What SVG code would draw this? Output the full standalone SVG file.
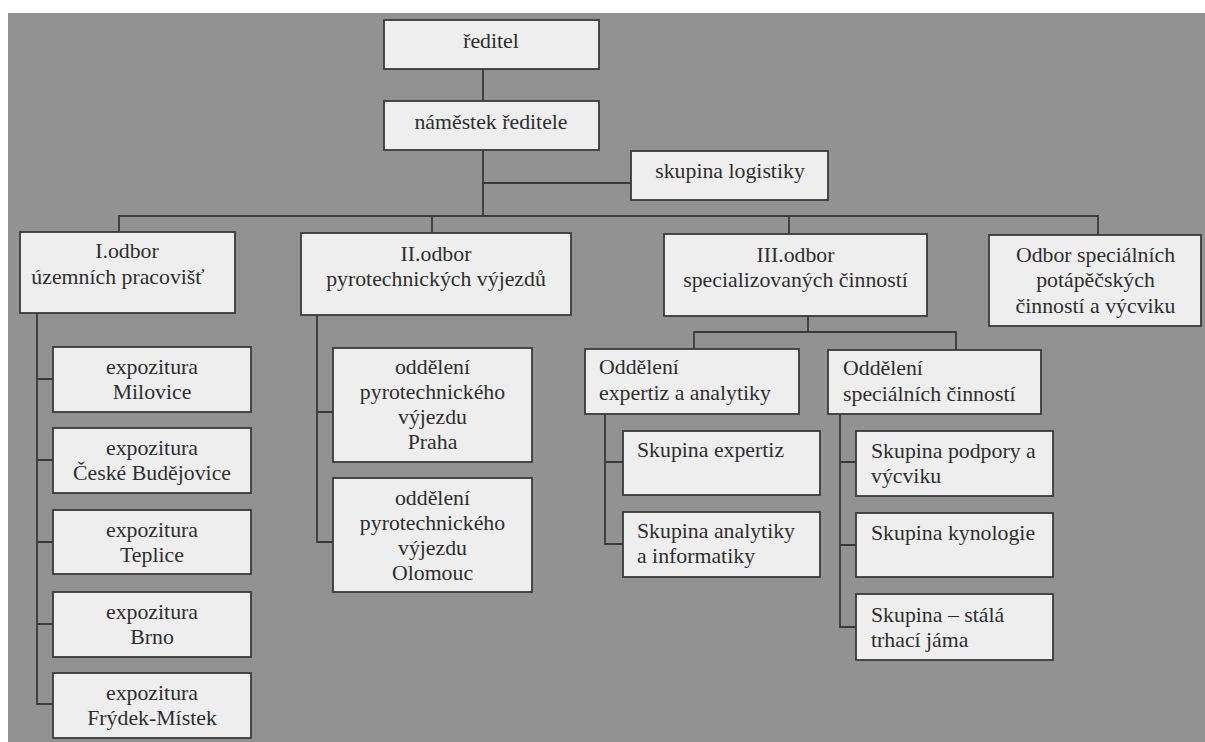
<svg xmlns="http://www.w3.org/2000/svg" width="1205" height="742" viewBox="0 0 1205 742">
<style>
.bg{fill:#929292}
.box{fill:#eeeeee;stroke:#3a3a3a;stroke-width:1.8}
.c{fill:none;stroke:#3a3a3a;stroke-width:1.8}
.t text{font-size:21.8px;fill:#2e2e2e}
.m{text-anchor:middle}
</style>
<rect x="0" y="0" width="1205" height="742" fill="#ffffff"/>
<rect class="bg" x="8" y="13" width="1197" height="729"/>
<g id="connectors">
<path class="c" d="M483,69 V101"/>
<path class="c" d="M483,150 V216 M483,183 H631"/>
<path class="c" d="M119,231 V216 H1098 V235 M432,216 V233 M789,216 V234"/>
<path class="c" d="M37,313 V704 H53 M37,379 H53 M37,460 H53 M37,542 H53 M37,624 H53"/>
<path class="c" d="M317,315 V542 H333 M317,412 H333"/>
<path class="c" d="M808,316 V332 M694,349 V332 H956 V350"/>
<path class="c" d="M605,414 V544 H623 M605,462 H623"/>
<path class="c" d="M840,414 V627 H856 M840,545 H856 M840,462 H856"/>
</g>
<g class="t" font-family="'Liberation Serif', 'DejaVu Serif', 'Times New Roman', serif">
<g id="reditel"><rect class="box" x="384" y="20" width="215" height="49"/><text class="m" x="491" y="48">ředitel</text></g>
<g id="namestek"><rect class="box" x="384" y="101" width="215" height="49"/><text class="m" x="491" y="129">náměstek ředitele</text></g>
<g id="logistika"><rect class="box" x="631" y="151" width="197" height="49"/><text class="m" x="730" y="178">skupina logistiky</text></g>
<g id="odbor1"><rect class="box" x="20" y="232" width="215" height="81"/><text class="m" x="127" y="258">I.odbor</text><text class="m" x="118" y="284">územních pracovišť</text></g>
<g id="odbor2"><rect class="box" x="301" y="233" width="270" height="82"/><text class="m" x="436" y="261">II.odbor</text><text class="m" x="436" y="286">pyrotechnických výjezdů</text></g>
<g id="odbor3"><rect class="box" x="664" y="234" width="263" height="82"/><text class="m" x="795.5" y="262">III.odbor</text><text class="m" x="795.5" y="287">specializovaných činností</text></g>
<g id="odbor4"><rect class="box" x="989" y="235" width="212" height="91"/><text class="m" x="1095.5" y="262">Odbor speciálních</text><text class="m" x="1095.5" y="287">potápěčských</text><text class="m" x="1095.5" y="313">činností a výcviku</text></g>
<g id="exp1"><rect class="box" x="53" y="347" width="198" height="65"/><text class="m" x="152" y="374">expozitura</text><text class="m" x="152" y="399">Milovice</text></g>
<g id="exp2"><rect class="box" x="53" y="428" width="198" height="65"/><text class="m" x="152" y="455">expozitura</text><text class="m" x="152" y="480">České Budějovice</text></g>
<g id="exp3"><rect class="box" x="53" y="510" width="198" height="64"/><text class="m" x="152" y="537">expozitura</text><text class="m" x="152" y="562">Teplice</text></g>
<g id="exp4"><rect class="box" x="53" y="592" width="198" height="65"/><text class="m" x="152" y="619">expozitura</text><text class="m" x="152" y="644">Brno</text></g>
<g id="exp5"><rect class="box" x="53" y="673" width="198" height="65"/><text class="m" x="152" y="700">expozitura</text><text class="m" x="152" y="725">Frýdek-Místek</text></g>
<g id="praha"><rect class="box" x="333" y="348" width="199" height="114"/><text class="m" x="432.5" y="374">oddělení</text><text class="m" x="432.5" y="399">pyrotechnického</text><text class="m" x="432.5" y="424">výjezdu</text><text class="m" x="432.5" y="449">Praha</text></g>
<g id="olomouc"><rect class="box" x="333" y="478" width="199" height="114"/><text class="m" x="432.5" y="505">oddělení</text><text class="m" x="432.5" y="530">pyrotechnického</text><text class="m" x="432.5" y="555">výjezdu</text><text class="m" x="432.5" y="580">Olomouc</text></g>
<g id="odd-expertiz"><rect class="box" x="585" y="349" width="214" height="65"/><text x="599" y="374">Oddělení</text><text x="599" y="400">expertiz a analytiky</text></g>
<g id="odd-special"><rect class="box" x="828" y="350" width="213" height="64"/><text x="843" y="375">Oddělení</text><text x="843" y="401">speciálních činností</text></g>
<g id="sk-expertiz"><rect class="box" x="623" y="431" width="197" height="64"/><text x="637" y="457">Skupina expertiz</text></g>
<g id="sk-analytiky"><rect class="box" x="623" y="512" width="197" height="65"/><text x="637" y="538">Skupina analytiky</text><text x="637" y="563">a informatiky</text></g>
<g id="sk-podpory"><rect class="box" x="856" y="431" width="197" height="65"/><text x="871" y="458">Skupina podpory a</text><text x="871" y="483">výcviku</text></g>
<g id="sk-kynologie"><rect class="box" x="856" y="513" width="197" height="64"/><text x="871" y="540">Skupina kynologie</text></g>
<g id="sk-jama"><rect class="box" x="856" y="594" width="197" height="66"/><text x="871" y="622">Skupina – stálá</text><text x="871" y="647">trhací jáma</text></g>
</g>
</svg>
